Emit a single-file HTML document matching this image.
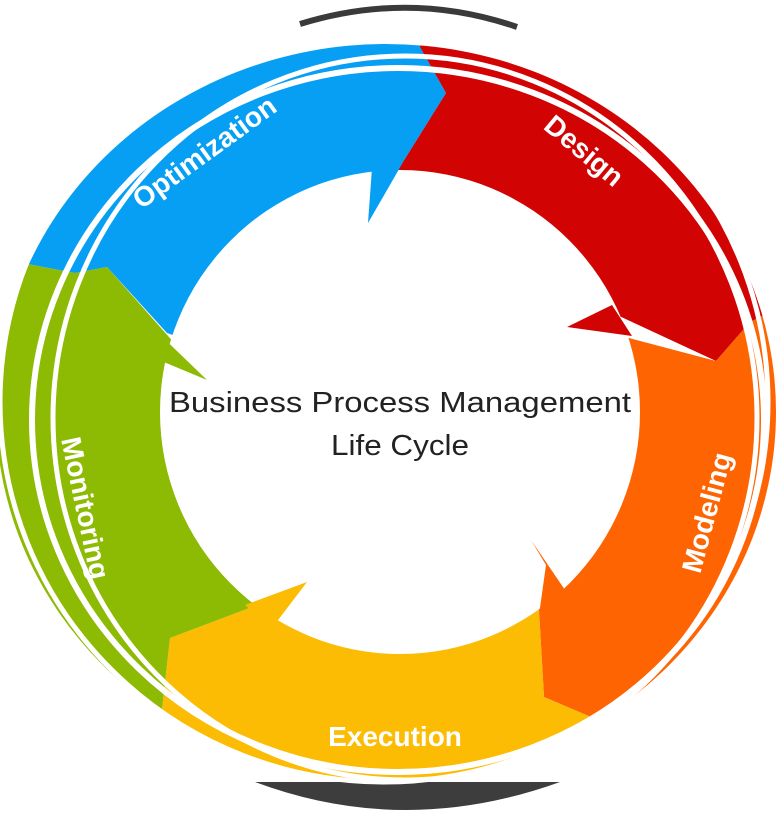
<!DOCTYPE html>
<html><head><meta charset="utf-8"><style>
html,body{margin:0;padding:0;background:#fff;overflow:hidden;width:782px;height:820px;}
svg{display:block;}
text{font-family:"Liberation Sans",sans-serif;}
</style></head><body>
<svg width="782" height="820" viewBox="0 0 782 820" xmlns="http://www.w3.org/2000/svg">
<defs>
<clipPath id="outer"><ellipse cx="386" cy="412" rx="390" ry="368"/></clipPath>
</defs>
<path d="M300,24 Q410,-10 517,27" fill="none" stroke="#3a3a3a" stroke-width="6"/>
<path d="M255,782 Q405,838 560,782 Z" fill="#3d3d3d"/>
<g clip-path="url(#outer)">
<polygon fill="#069ff3" points="415,-50 420,47 446,93 398,170 400,412 167,333 107,267 75,273 -100,240 -100,-100"/>
<polygon fill="#d10303" points="415,-50 420,47 446,93 398,170 400,412 617,315 716,361 750,322 900,250 900,-50"/>
<polygon fill="#fe6401" points="900,250 750,322 716,361 629,338 400,412 539,610 544,697 645,740 750,900 900,900"/>
<polygon fill="#fbbc03" points="750,900 645,740 544,697 539,610 400,412 252,607 170,638 160,727 100,900"/>
<polygon fill="#8dba03" points="-100,240 75,273 107,267 207,380 400,412 252,607 170,638 160,727 100,900 -100,900"/>
</g>
<ellipse cx="400" cy="412" rx="240" ry="242" fill="#fff"/>
<polygon fill="#069ff3" points="372,168 402,164 368,223"/>
<polygon fill="#d10303" points="612,305 567,327 632,336"/>
<polygon fill="#fe6401" points="531,540 565,590 539,615 546,565"/>
<polygon fill="#fbbc03" points="307,582 272,628 245,605"/>
<polygon fill="#8dba03" points="150,325 207,380 159,360"/>
<ellipse cx="398" cy="420" rx="366" ry="352" fill="none" stroke="#fff" stroke-width="6"/>
<ellipse cx="405" cy="418" rx="352" ry="362" fill="none" stroke="#fff" stroke-width="5"/>
<ellipse cx="384" cy="402" rx="384" ry="380" fill="none" stroke="#fff" stroke-width="5"/>
<text x="400" y="412" font-size="29" fill="#222" text-anchor="middle" textLength="462" lengthAdjust="spacingAndGlyphs">Business Process Management</text>
<text x="400" y="455" font-size="29" fill="#222" text-anchor="middle" textLength="138" lengthAdjust="spacingAndGlyphs">Life Cycle</text>
<text transform="translate(210,160) rotate(-36)" font-size="28" font-weight="bold" fill="#fff" text-anchor="middle">Optimization</text>
<text transform="translate(578,158) rotate(40)" font-size="28" font-weight="bold" fill="#fff" text-anchor="middle">Design</text>
<text transform="translate(716,515) rotate(-75)" font-size="28" font-weight="bold" fill="#fff" text-anchor="middle">Modeling</text>
<text x="395" y="746" font-size="28" font-weight="bold" fill="#fff" text-anchor="middle">Execution</text>
<text transform="translate(76,510) rotate(78)" font-size="28" font-weight="bold" fill="#fff" text-anchor="middle">Monitoring</text>
</svg>
</body></html>
